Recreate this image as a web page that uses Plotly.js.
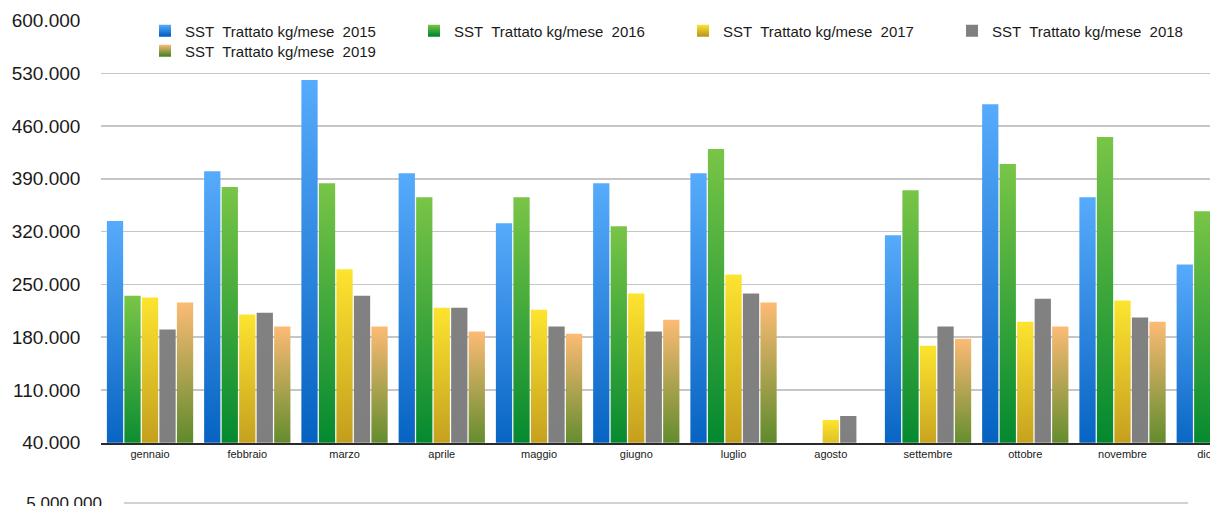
<!DOCTYPE html>
<html>
<head>
<meta charset="utf-8">
<script src="https://cdn.plot.ly/plotly-3.0.1.min.js"></script>
<style>
  html, body { margin: 0; padding: 0; overflow: hidden; background: #fff; }
  #chart { width: 1280px; height: 800px; }
</style>
</head>
<body>
<div id="chart"></div>
<script>
// ---- data ----
const months = ["gennaio","febbraio","marzo","aprile","maggio","giugno","luglio","agosto","settembre","ottobre","novembre","dicembre"];
const seriesNames = ["SST\u00a0 Trattato kg/mese\u00a0 2015","SST\u00a0 Trattato kg/mese\u00a0 2016","SST\u00a0 Trattato kg/mese\u00a0 2017","SST\u00a0 Trattato kg/mese\u00a0 2018","SST\u00a0 Trattato kg/mese\u00a0 2019"];
const v2015 = [334000, 400000, 521000, 397500, 331000, 384000, 397500, null, 315000, 489000, 365500, 276500];
const v2016 = [235000, 379000, 384000, 365500, 365500, 327000, 429500, null, 375000, 409500, 445500, 347000];
const v2017 = [232500, 210000, 270000, 219000, 216500, 238000, 263000, 70000, 168500, 200500, 228500, 215000];
const v2018 = [190000, 212500, 235000, 219000, 194000, 187500, 238000, 75500, 194000, 231000, 206000, 200000];
const v2019 = [226000, 194000, 194000, 187500, 184500, 203000, 226000, null, 178000, 194000, 200500, 190000];
const yTicks = [40000, 110000, 180000, 250000, 320000, 390000, 460000, 530000, 600000];

// gradient styles (top colour, bottom colour)
const grads = [
  ["#57abfc", "#0461c0"],
  ["#79c546", "#00872f"],
  ["#fde42f", "#bd971d"],
  ["#808180", "#7e7f7e"],
  ["#fcbb75", "#4a8422"]
];
const baseColors = ["#2a87e6", "#3aa63c", "#e2c226", "#808180", "#b5a55a"];

const W = 1280, H = 800;
const allVals = [v2015, v2016, v2017, v2018, v2019];
const traces = allVals.map((vals, i) => ({
  type: "bar",
  name: seriesNames[i],
  x: months,
  y: vals,
  marker: { color: baseColors[i], line: { width: 0 } },
  hoverinfo: "skip"
}));
// empty trace for the cropped second chart below
traces.push({ type: "scatter", x: [], y: [], xaxis: "x2", yaxis: "y2", showlegend: false, hoverinfo: "skip" });

const y2Top = 5000000 / (1 - 3 / 260);

const layout = {
  width: W, height: H,
  margin: { l: 0, r: 0, t: 0, b: 0, pad: 0 },
  paper_bgcolor: "#ffffff",
  plot_bgcolor: "rgba(0,0,0,0)",
  separators: ",.",
  font: { family: "Liberation Sans, Arial, sans-serif", color: "#1a1a1a" },
  barmode: "group",
  bargap: 0.1,
  bargroupgap: 0.07,
  showlegend: true,
  legend: {
    orientation: "h",
    x: 145 / W, xanchor: "left",
    y: 1 - 14.5 / H, yanchor: "top",
    entrywidth: 224, entrywidthmode: "pixels",
    bgcolor: "rgba(0,0,0,0)",
    font: { size: 15, color: "#1a1a1a" },
    traceorder: "normal",
    itemclick: false
  },
  xaxis: {
    domain: [101.4 / W, 1268.4 / W],
    type: "category",
    showgrid: false,
    zeroline: false,
    showline: true, linecolor: "#2a2a2a", linewidth: 2,
    ticks: "",
    tickfont: { size: 11, color: "#1a1a1a" },
    fixedrange: true
  },
  yaxis: {
    domain: [1 - 442.7 / H, 1 - 20.5 / H],
    range: [40000, 600000],
    tickvals: yTicks,
    tickformat: ",",
    showgrid: true, gridcolor: "#c6c6c6", gridwidth: 1.5,
    zeroline: false, showline: false, ticks: "",
    ticklabelstandoff: 20,
    tickfont: { size: 19, color: "#1a1a1a" },
    fixedrange: true
  },
  xaxis2: {
    domain: [124 / W, 1188 / W],
    anchor: "y2",
    range: [0, 1],
    showgrid: false, zeroline: false, showline: false, showticklabels: false, ticks: ""
  },
  yaxis2: {
    domain: [0.05, 1 - 500 / H],
    anchor: "x2",
    range: [0, y2Top],
    tickvals: [5000000],
    tickformat: ",",
    showgrid: true, gridcolor: "#d2d2d2", gridwidth: 1.5,
    zeroline: false, showline: false, ticks: "",
    ticklabelstandoff: 21,
    tickfont: { size: 17, color: "#1a1a1a" }
  }
};

function applyGradients(gd) {
  const svg = gd.querySelector(".main-svg");
  let defs = svg.querySelector("defs");
  const NS = "http://www.w3.org/2000/svg";
  grads.forEach((g, i) => {
    const id = "bargrad" + i;
    if (document.getElementById(id)) return;
    const lg = document.createElementNS(NS, "linearGradient");
    lg.setAttribute("id", id);
    lg.setAttribute("x1", "0"); lg.setAttribute("y1", "0");
    lg.setAttribute("x2", "0"); lg.setAttribute("y2", "1");
    const s1 = document.createElementNS(NS, "stop");
    s1.setAttribute("offset", "0"); s1.setAttribute("stop-color", g[0]);
    const s2 = document.createElementNS(NS, "stop");
    s2.setAttribute("offset", "0.93"); s2.setAttribute("stop-color", g[1]);
    const s3 = document.createElementNS(NS, "stop");
    s3.setAttribute("offset", "1"); s3.setAttribute("stop-color", g[1]);
    lg.appendChild(s1); lg.appendChild(s2); lg.appendChild(s3);
    defs.appendChild(lg);
  });
  gd.querySelectorAll(".barlayer .trace.bars").forEach((tr, i) => {
    tr.querySelectorAll(".point path").forEach(p => p.style.setProperty("fill", "url(#bargrad" + i + ")"));
  });
  const items = gd.querySelectorAll(".legend .traces");
  items.forEach((tr, i) => {
    tr.querySelectorAll(".legendpoints path").forEach(p => p.style.setProperty("fill", "url(#bargrad" + i + ")"));
  });
  // tighten the legend's second row slightly, as in the reference
  items.forEach(tr => {
    const t = tr.getAttribute("transform") || "";
    const m = t.match(/translate\(\s*([-\d.]+)[ ,]+([-\d.]+)\s*\)/);
    if (m && parseFloat(m[2]) > 25) {
      tr.setAttribute("transform", "translate(" + m[1] + "," + (parseFloat(m[2]) - 2.5) + ")");
    }
  });
}

const gd = document.getElementById("chart");
Plotly.newPlot(gd, traces, layout, { displayModeBar: false, staticPlot: true }).then(() => applyGradients(gd));
</script>
</body>
</html>
